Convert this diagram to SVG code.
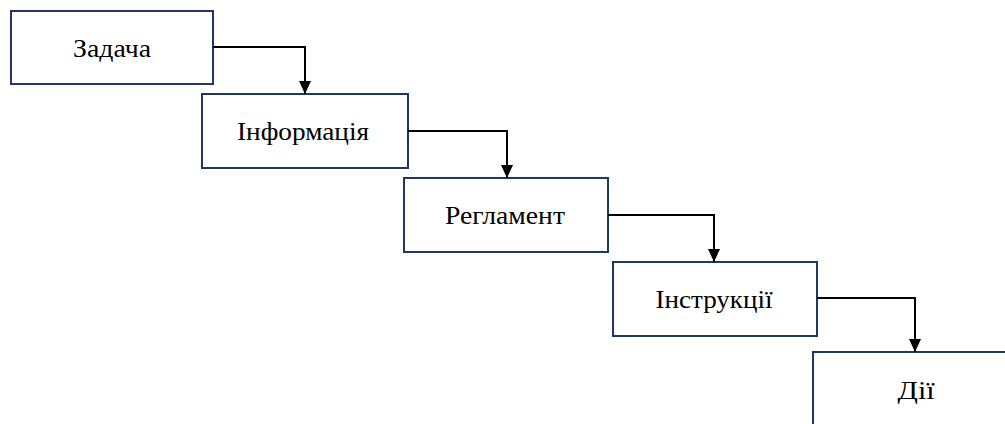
<svg xmlns="http://www.w3.org/2000/svg" width="1005" height="424" viewBox="0 0 1005 424">
<style>
.box{fill:#fff;stroke:#1F3864;stroke-width:2}
.lbl{font-family:'Liberation Serif','Times New Roman',serif;font-size:26px;fill:#000;text-anchor:middle}
.con{fill:none;stroke:#000;stroke-width:2}
</style>
<defs>
<marker id="arr" markerWidth="14" markerHeight="12" refX="13" refY="6" orient="auto" markerUnits="userSpaceOnUse">
<path d="M0,0 L13,6 L0,12 Z" fill="#000"/>
</marker>
</defs>
<rect width="1005" height="424" fill="#fff"/>
<g id="node1"><rect class="box" x="11" y="11" width="202" height="73"/><text class="lbl" x="112" y="57" textLength="78" lengthAdjust="spacingAndGlyphs">Задача</text></g>
<g id="node2"><rect class="box" x="202" y="94" width="206" height="74"/><text class="lbl" x="303" y="140" textLength="132" lengthAdjust="spacingAndGlyphs">Інформація</text></g>
<g id="node3"><rect class="box" x="404" y="178" width="204" height="74"/><text class="lbl" x="505" y="224" textLength="120" lengthAdjust="spacingAndGlyphs">Регламент</text></g>
<g id="node4"><rect class="box" x="613" y="262" width="204" height="74"/><text class="lbl" x="714" y="308" textLength="117" lengthAdjust="spacingAndGlyphs">Інструкції</text></g>
<g id="node5"><rect class="box" x="813" y="352" width="200" height="80"/><text class="lbl" x="916" y="399" textLength="37" lengthAdjust="spacingAndGlyphs">Дії</text></g>
<g id="connectors">
<path class="con" d="M213,47 H305 V94" marker-end="url(#arr)"/>
<path class="con" d="M408,131 H507 V178" marker-end="url(#arr)"/>
<path class="con" d="M608,215 H714 V262" marker-end="url(#arr)"/>
<path class="con" d="M817,298 H915 V352" marker-end="url(#arr)"/>
</g>
</svg>
